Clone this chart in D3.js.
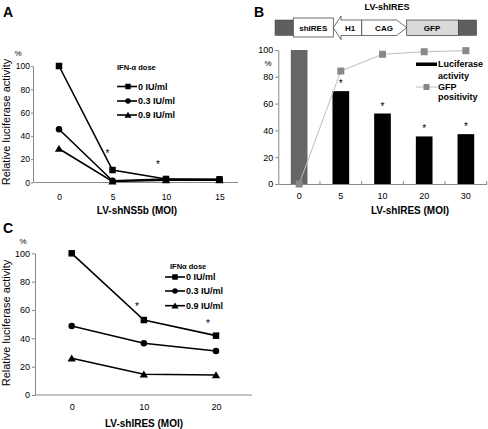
<!DOCTYPE html>
<html><head><meta charset="utf-8">
<script src="https://cdn.jsdelivr.net/npm/d3@7"></script>
<style>body{margin:0;background:#fff}svg{display:block}text{font-family:"Liberation Sans",Arial,sans-serif}</style>
</head><body>
<script>
// ---- Panel A data
const aDoses = ["0 IU/ml","0.3 IU/ml","0.9 IU/ml"];
const aMoi = [0,5,10,15];
const aDose0 = [100,10.7,3,2.7];
const aDose03 = [45.7,1.5,3,2.5];
const aDose09 = [29,1,2,2];
const aStars = [5,10];
const aYTicks = [0,20,40,60,80,100];
// ---- Panel B data
const bCats = ["0","5","10","20","30"];
const bLuc = [100,69.3,52.6,35.5,37.2];
const bGfp = [0,84.3,96.8,98.7,99.5];
const bStars = ["5","10","20","30"];
const bYTicks = [0,20,40,60,80,100];
// ---- Panel C data
const cMoi = [0,10,20];
const cDose0 = [100,52.9,41.9];
const cDose03 = [48.7,36.5,31];
const cDose09 = [25.9,14.6,14.1];
const cStars = [10,20];
const cYTicks = [0,20,40,60,80,100];

const W=488,H=429;
const svg=d3.select("body").append("svg").attr("width",W).attr("height",H);
const AX="#888";

function markerPath(type,s){
  if(type==="sq") return `M${-s/2},${-s/2}h${s}v${s}h${-s}Z`;
  if(type==="ci") return d3.symbol(d3.symbolCircle,Math.PI*(s/2)*(s/2))();
  return `M0,${-s*0.5}L${s*0.55},${s*0.42}L${-s*0.55},${s*0.42}Z`;
}

function linePanel(g,o){
  const x=d3.scaleLinear().domain(o.xdom).range(o.xr);
  const y=d3.scaleLinear().domain([0,100]).range(o.yr);
  // y axis
  const ya=g.append("g").attr("transform",`translate(${o.axX},0)`)
    .call(d3.axisLeft(y).tickValues(o.yticks).tickSize(o.tick).tickPadding(o.tpad).tickSizeOuter(0));
  ya.select(".domain").attr("stroke",AX);
  ya.selectAll(".tick line").attr("stroke",AX);
  ya.selectAll("text").attr("font-size",o.tfs).attr("fill","#000").style("font-family","Liberation Sans, Arial");
  // x axis
  const xa=g.append("g").attr("transform",`translate(0,${o.yr[0]})`)
    .call(d3.axisBottom(x).tickValues(o.xvals).tickSize(0).tickPadding(o.xpad));
  xa.select(".domain").remove();
  xa.selectAll("text").attr("font-size",o.tfs).attr("fill","#000").style("font-family","Liberation Sans, Arial");
  g.append("line").attr("x1",o.axX).attr("x2",o.axEnd).attr("y1",o.yr[0]).attr("y2",o.yr[0]).attr("stroke",AX);
  // series
  const line=d3.line().x((d,i)=>x(o.xvals[i])).y(d=>y(d));
  o.series.forEach(s=>{
    g.append("path").attr("d",line(s.v)).attr("fill","none").attr("stroke","#000").attr("stroke-width",1.6);
  });
  o.series.forEach(s=>{
    g.selectAll(null).data(s.v).enter().append("path")
      .attr("d",markerPath(s.m,s.m==="ci"?6.5:(s.m==="sq"?6.5:7.5)))
      .attr("transform",(d,i)=>`translate(${x(o.xvals[i])},${y(d)})`).attr("fill","#000");
  });
  // stars
  o.stars.forEach((s,i)=>{
    g.append("text").attr("x",x(s)+o.starDx[i]).attr("y",o.starY[i]).attr("text-anchor","middle").attr("font-size",10).text("*");
  });
  // titles
  g.append("text").attr("transform",`translate(${o.ytX},${o.ytY}) rotate(-90)`).attr("text-anchor","middle")
    .attr("dominant-baseline","central").attr("font-size",11).text("Relative luciferase activity");
  g.append("text").attr("x",o.xtX).attr("y",o.xtY).attr("text-anchor","middle").attr("font-size",10)
    .attr("font-weight","bold").text(o.xtitle);
  g.append("text").attr("x",o.pctX).attr("y",o.pctY).attr("font-size",8).attr("text-anchor","middle").text("%");
  // legend
  const L=o.leg;
  g.append("text").attr("x",L.tx).attr("y",L.ty).attr("font-size",7.5).attr("font-weight","bold").text(L.title);
  o.series.forEach((s,i)=>{
    const yy=L.ys[i];
    g.append("line").attr("x1",L.x1).attr("x2",L.x2).attr("y1",yy).attr("y2",yy).attr("stroke","#000").attr("stroke-width",1.6);
    g.append("path").attr("d",markerPath(s.m,s.m==="tr"?6.5:5.5)).attr("transform",`translate(${L.mx},${yy})`);
    g.append("text").attr("x",L.x2+1).attr("y",yy).attr("dominant-baseline","central").attr("font-size",9)
      .attr("font-weight","bold").text(aDoses[i]);
  });
}

// Panel letters
svg.append("text").attr("x",3).attr("y",17).attr("font-size",14).attr("font-weight","bold").text("A");
svg.append("text").attr("x",254).attr("y",17).attr("font-size",14).attr("font-weight","bold").text("B");
svg.append("text").attr("x",3).attr("y",233).attr("font-size",14).attr("font-weight","bold").text("C");

linePanel(svg.append("g"),{
  xdom:[0,15],xr:[59,219.5],yr:[182.5,66],axX:33,axEnd:238,xvals:aMoi,yticks:aYTicks,
  tick:2,tpad:1,tfs:8.5,xpad:11,
  series:[{v:aDose0,m:"sq"},{v:aDose03,m:"ci"},{v:aDose09,m:"tr"}],
  stars:aStars,starDx:[-5,-8],starY:[157,168],
  ytX:6,ytY:122,xtX:137,xtY:214,xtitle:"LV-shNS5b (MOI)",pctX:18,pctY:56,
  leg:{title:"IFN-\u03b1 dose",tx:117,ty:70,ys:[86.5,101,115],x1:117,x2:137,mx:128}
});

linePanel(svg.append("g"),{
  xdom:[0,20],xr:[71.7,216],yr:[395,253.3],axX:35,axEnd:252,xvals:cMoi,yticks:cYTicks,
  tick:3,tpad:2,tfs:9,xpad:9,
  series:[{v:cDose0,m:"sq"},{v:cDose03,m:"ci"},{v:cDose09,m:"tr"}],
  stars:cStars,starDx:[-7,-8],starY:[310,327],
  ytX:6,ytY:323,xtX:144,xtY:427,xtitle:"LV-shIRES (MOI)",pctX:23,pctY:244,
  leg:{title:"IFN\u03b1 dose",tx:170,ty:269,ys:[277,291,305.7],x1:165,x2:185,mx:175}
});

// ---- Panel B
{
  const g=svg.append("g");
  const x=d3.scaleBand().domain(bCats).range([278.3,486.7]).paddingInner(0.6).paddingOuter(0.3);
  const y=d3.scaleLinear().domain([0,100]).range([184,50]);
  const ya=g.append("g").attr("transform","translate(278.3,0)")
    .call(d3.axisLeft(y).tickValues(bYTicks).tickSize(3).tickPadding(2).tickSizeOuter(0));
  ya.select(".domain").attr("stroke",AX);
  ya.selectAll(".tick line").attr("stroke",AX);
  ya.selectAll("text").attr("font-size",9).attr("fill","#000").style("font-family","Liberation Sans, Arial");
  const xa=g.append("g").attr("transform","translate(0,184)")
    .call(d3.axisBottom(x).tickSize(0).tickPadding(9));
  xa.select(".domain").attr("stroke",AX);
  xa.selectAll("text").attr("font-size",9).attr("fill","#000").style("font-family","Liberation Sans, Arial");
  const step=x.step(), r0=x.range()[0];
  g.selectAll(null).data(bCats.slice(1).concat(["end"])).enter().append("line")
    .attr("x1",(d,i)=>r0+step*(i+1)).attr("x2",(d,i)=>r0+step*(i+1)).attr("y1",184).attr("y2",181).attr("stroke",AX);
  g.selectAll(null).data(bLuc).enter().append("rect")
    .attr("x",(d,i)=>x(bCats[i])).attr("width",x.bandwidth()).attr("y",d=>y(d)).attr("height",d=>184-y(d))
    .attr("fill",(d,i)=>i===0?"#666":"#000");
  const cx=i=>x(bCats[i])+x.bandwidth()/2;
  g.append("path").attr("d",d3.line().x((d,i)=>cx(i)).y(d=>y(d))(bGfp)).attr("fill","none").attr("stroke","#bdbdbd").attr("stroke-width",1);
  g.selectAll(null).data(bGfp).enter().append("rect")
    .attr("x",(d,i)=>cx(i)-3.5).attr("y",d=>y(d)-3.5).attr("width",7).attr("height",7).attr("fill","#888");
  bStars.forEach(c=>{
    const i=bCats.indexOf(c);
    g.append("text").attr("x",cx(i)).attr("y",y(bLuc[i])-4).attr("text-anchor","middle").attr("font-size",10).text("*");
  });
  g.append("text").attr("x",268).attr("y",66).attr("font-size",8).attr("text-anchor","middle").text("%");
  g.append("text").attr("x",410).attr("y",214).attr("text-anchor","middle").attr("font-size",10).attr("font-weight","bold").text("LV-shIRES (MOI)");
  // legend
  g.append("rect").attr("x",416).attr("y",62.5).attr("width",21).attr("height",3.5).attr("fill","#000");
  g.append("text").attr("x",438).attr("y",67).attr("font-size",9).attr("font-weight","bold").text("Luciferase");
  g.append("text").attr("x",438).attr("y",78.5).attr("font-size",9).attr("font-weight","bold").text("activity");
  g.append("line").attr("x1",416).attr("x2",437).attr("y1",87).attr("y2",87).attr("stroke","#bdbdbd");
  g.append("rect").attr("x",423.5).attr("y",84).attr("width",6).attr("height",6).attr("fill","#888");
  g.append("text").attr("x",438).attr("y",89.5).attr("font-size",9).attr("font-weight","bold").text("GFP");
  g.append("text").attr("x",438).attr("y",100).attr("font-size",9).attr("font-weight","bold").text("positivity");
  // construct diagram
  const d=g.append("g");
  d.append("text").attr("x",387).attr("y",10).attr("text-anchor","middle").attr("font-size",9).attr("font-weight","bold").text("LV-shIRES");
  d.append("rect").attr("x",275).attr("y",20).attr("width",18.3).attr("height",15.5).attr("fill","#5e5e5e").attr("stroke","#444").attr("stroke-width",0.5);
  d.append("rect").attr("x",458.3).attr("y",20).attr("width",18.4).attr("height",15.5).attr("fill","#5e5e5e").attr("stroke","#444").attr("stroke-width",0.5);
  d.append("rect").attr("x",406.7).attr("y",20).attr("width",51.6).attr("height",15.5).attr("fill","#d9d9d9").attr("stroke","#333").attr("stroke-width",0.7);
  d.append("rect").attr("x",293.3).attr("y",18).attr("width",40).attr("height",19).attr("fill","#fff").attr("stroke","#333").attr("stroke-width",0.7);
  d.append("path").attr("d","M333.3,27.7L341,16L341,20L361.7,20L361.7,35.5L341,35.5L341,39.5Z").attr("fill","#fff").attr("stroke","#333").attr("stroke-width",0.7);
  d.append("path").attr("d","M361.7,20L396.7,20L406.7,27.7L396.7,35.5L361.7,35.5Z").attr("fill","#fff").attr("stroke","#333").attr("stroke-width",0.7);
  [["shIRES",313.3],["H1",350],["CAG",384],["GFP",432]].forEach(t=>{
    d.append("text").attr("x",t[1]).attr("y",28).attr("dominant-baseline","central").attr("text-anchor","middle")
      .attr("font-size",8).attr("font-weight","bold").text(t[0]);
  });
}
</script>
</body></html>
